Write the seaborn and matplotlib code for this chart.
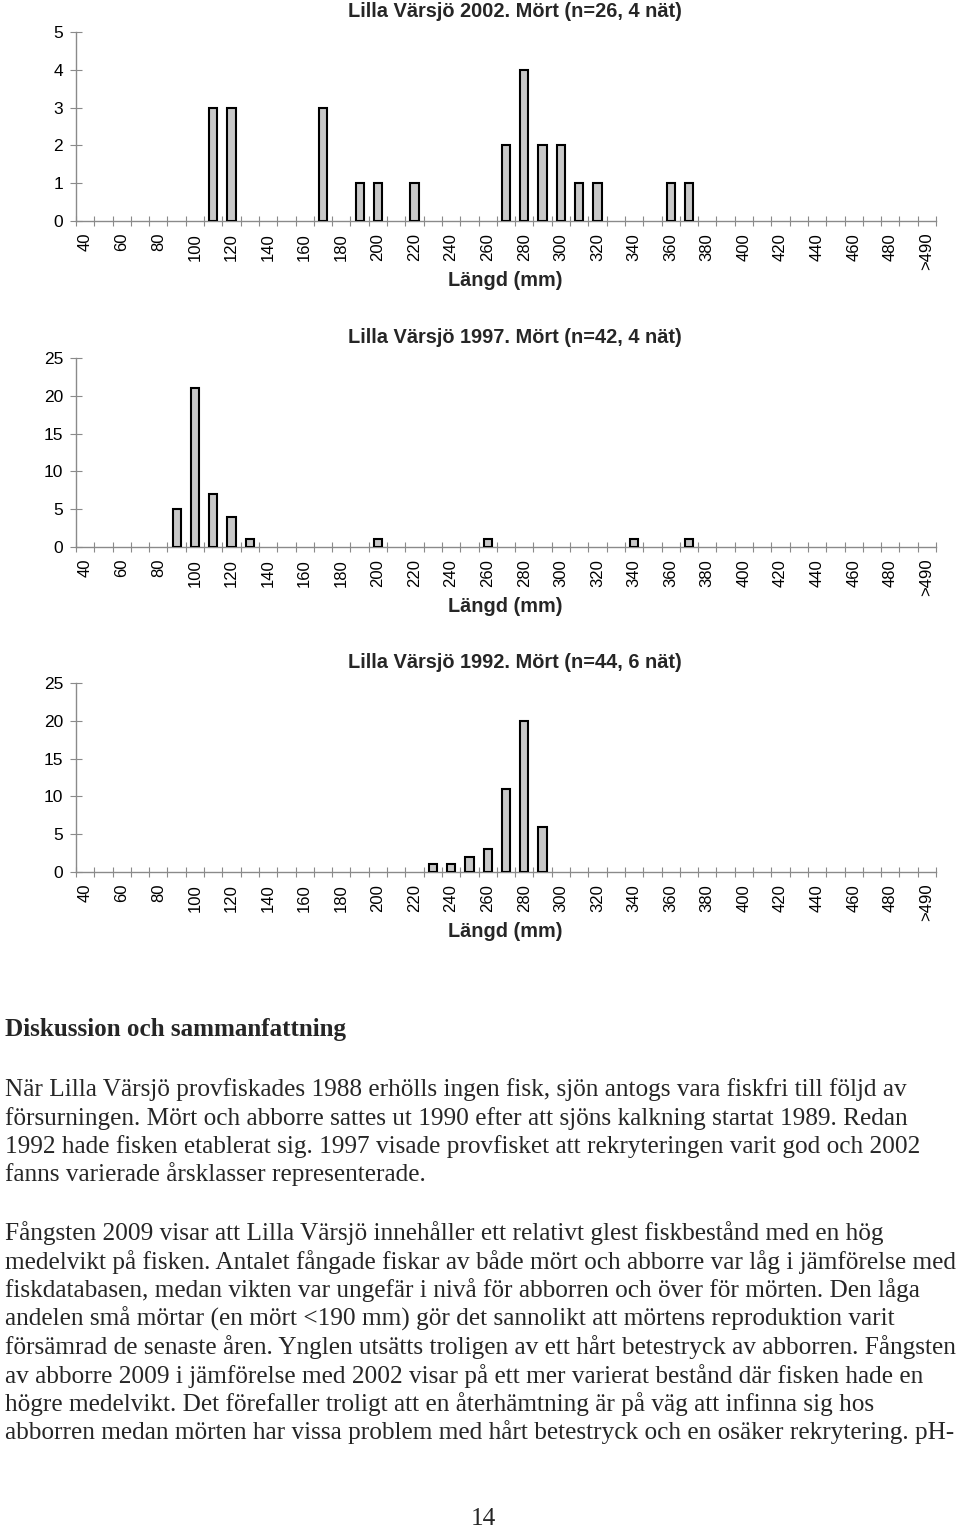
import numpy as np
import pandas as pd
import matplotlib
matplotlib.use("Agg")
import matplotlib.pyplot as plt
from matplotlib.ticker import FixedLocator
import seaborn as sns

# ---------------- data ----------------
lengths = [str(v) for v in range(40, 500, 10)] + [">490"]   # 47 length classes (mm)
tick_labels = lengths[::2]                                   # 40, 60, ..., 480, >490

#                 40 50 60 70 80 90 100 110 120 130 140 150 160 170 180 190 200 210 220 230 240 250 260 270 280 290 300 310 320 330 340 350 360 370 380 390 400 410 420 430 440 450 460 470 480 490 >490
counts_2002 = [0, 0, 0, 0, 0, 0, 0,  3,  3,  0,  0,  0,  0,  3,  0,  1,  1,  0,  1,  0,  0,  0,  0,  2,  4,  2,  2,  1,  1,  0,  0,  0,  1,  1,  0,  0,  0,  0,  0,  0,  0,  0,  0,  0,  0,  0,  0]
counts_1997 = [0, 0, 0, 0, 0, 5, 21, 7,  4,  1,  0,  0,  0,  0,  0,  0,  1,  0,  0,  0,  0,  0,  1,  0,  0,  0,  0,  0,  0,  0,  1,  0,  0,  1,  0,  0,  0,  0,  0,  0,  0,  0,  0,  0,  0,  0,  0]
counts_1992 = [0, 0, 0, 0, 0, 0, 0,  0,  0,  0,  0,  0,  0,  0,  0,  0,  0,  0,  0,  1,  1,  2,  3,  11, 20, 6,  0,  0,  0,  0,  0,  0,  0,  0,  0,  0,  0,  0,  0,  0,  0,  0,  0,  0,  0,  0,  0]

titles = ["Lilla Värsjö 2002. Mört (n=26, 4 nät)",
          "Lilla Värsjö 1997. Mört (n=42, 4 nät)",
          "Lilla Värsjö 1992. Mört (n=44, 6 nät)"]
y_max = [5, 25, 25]
y_step = [1, 5, 5]
x_title = "Längd (mm)"

heading = "Diskussion och sammanfattning"
para1_lines = [
    "När Lilla Värsjö provfiskades 1988 erhölls ingen fisk, sjön antogs vara fiskfri till följd av",
    "försurningen. Mört och abborre sattes ut 1990 efter att sjöns kalkning startat 1989. Redan",
    "1992 hade fisken etablerat sig. 1997 visade provfisket att rekryteringen varit god och 2002",
    "fanns varierade årsklasser representerade.",
]
para2_lines = [
    "Fångsten 2009 visar att Lilla Värsjö innehåller ett relativt glest fiskbestånd med en hög",
    "medelvikt på fisken. Antalet fångade fiskar av både mört och abborre var låg i jämförelse med",
    "fiskdatabasen, medan vikten var ungefär i nivå för abborren och över för mörten. Den låga",
    "andelen små mörtar (en mört <190 mm) gör det sannolikt att mörtens reproduktion varit",
    "försämrad de senaste åren. Ynglen utsätts troligen av ett hårt betestryck av abborren. Fångsten",
    "av abborre 2009 i jämförelse med 2002 visar på ett mer varierat bestånd där fisken hade en",
    "högre medelvikt. Det förefaller troligt att en återhämtning är på väg att infinna sig hos",
    "abborren medan mörten har vissa problem med hårt betestryck och en osäker rekrytering. pH-",
]
page_number = "14"

# ---------------- style ----------------
sns.set_style("white")
plt.rcParams["font.family"] = ["Liberation Sans", "DejaVu Sans"]

W, H = 960, 1527
fig = plt.figure(figsize=(W / 100, H / 100), dpi=100)
renderer = fig.canvas.get_renderer()


def fx(px):
    return px / W


def fy(py):
    return 1 - py / H


def fit_text(x, y, s, target_w, base=14, **kw):
    t = fig.text(x, y, s, fontsize=base, **kw)
    w = t.get_window_extent(renderer).width
    t.set_fontsize(base * target_w / w)
    return t


axis_gray = "#8a8a8a"
series = [counts_2002, counts_1997, counts_1992]
zero_px = [221, 547, 872]
plot_h = 189
left_px, right_px = 76, 936

for i, counts in enumerate(series):
    ax = fig.add_axes([fx(left_px), fy(zero_px[i]), (right_px - left_px) / W, plot_h / H])
    df = pd.DataFrame({"Längd": lengths, "Antal": counts})
    sns.barplot(data=df, x="Längd", y="Antal", order=lengths, color="#c8c8c8",
                saturation=1, edgecolor="black", linewidth=1.5, width=0.45,
                errorbar=None, ax=ax, zorder=3)
    # empty classes get no visible bar
    for p in ax.patches:
        if p.get_height() == 0:
            p.set_visible(False)
    ax.set_xlim(-0.5, len(lengths) - 0.5)
    ax.set_ylim(0, y_max[i])
    ax.set_yticks(np.arange(0, y_max[i] + 1, y_step[i]))
    ax.set_xticks(range(0, len(lengths), 2), labels=tick_labels)
    ax.xaxis.set_minor_locator(FixedLocator(np.arange(-0.5, len(lengths), 1.0)))
    ax.set_xlabel("")
    ax.set_ylabel("")
    for side in ["top", "right"]:
        ax.spines[side].set_visible(False)
    for side in ["left", "bottom"]:
        ax.spines[side].set_color(axis_gray)
        ax.spines[side].set_linewidth(1.0)
        ax.spines[side].set_zorder(1)
    ax.tick_params(which="both", bottom=True, left=True, top=False, right=False)
    ax.tick_params(axis="y", which="major", direction="inout", length=8.6, width=0.8,
                   color=axis_gray, labelsize=12.5, pad=5, labelcolor="black")
    ax.tick_params(axis="x", which="major", length=0, labelsize=12, pad=8.5,
                   labelrotation=90, labelcolor="black")
    ax.tick_params(axis="x", which="minor", direction="inout", length=6.7, width=0.8,
                   color=axis_gray)
    ax.set_facecolor("none")

    off = zero_px[i] - 221
    fit_text(fx(515), fy(17 + off), titles[i], 334, ha="center", va="baseline",
             fontweight="bold")
    fit_text(fx(505), fy(286 + off), x_title, 114, ha="center", va="baseline",
             fontweight="bold")

# ---------------- text section ----------------
serif = ["Liberation Serif", "DejaVu Serif"]
fit_text(fx(5), fy(1036), heading, 343, ha="left", va="baseline",
         family=serif, fontweight="bold")

# common body font size fitted to the widest line
probe = fig.text(0, 0, para2_lines[1], fontsize=16, family=serif)
body_fs = 16 * 952 / probe.get_window_extent(renderer).width
probe.remove()

line_h = 28.5
for k, line in enumerate(para1_lines):
    fig.text(fx(5), fy(1096 + k * line_h), line, fontsize=body_fs, family=serif,
             ha="left", va="baseline")
for k, line in enumerate(para2_lines):
    fig.text(fx(5), fy(1240 + k * line_h), line, fontsize=body_fs, family=serif,
             ha="left", va="baseline")
fig.text(fx(483), fy(1525), page_number, fontsize=body_fs, family=serif,
         ha="center", va="baseline")

fig.savefig("out.png", dpi=100, facecolor="white")
